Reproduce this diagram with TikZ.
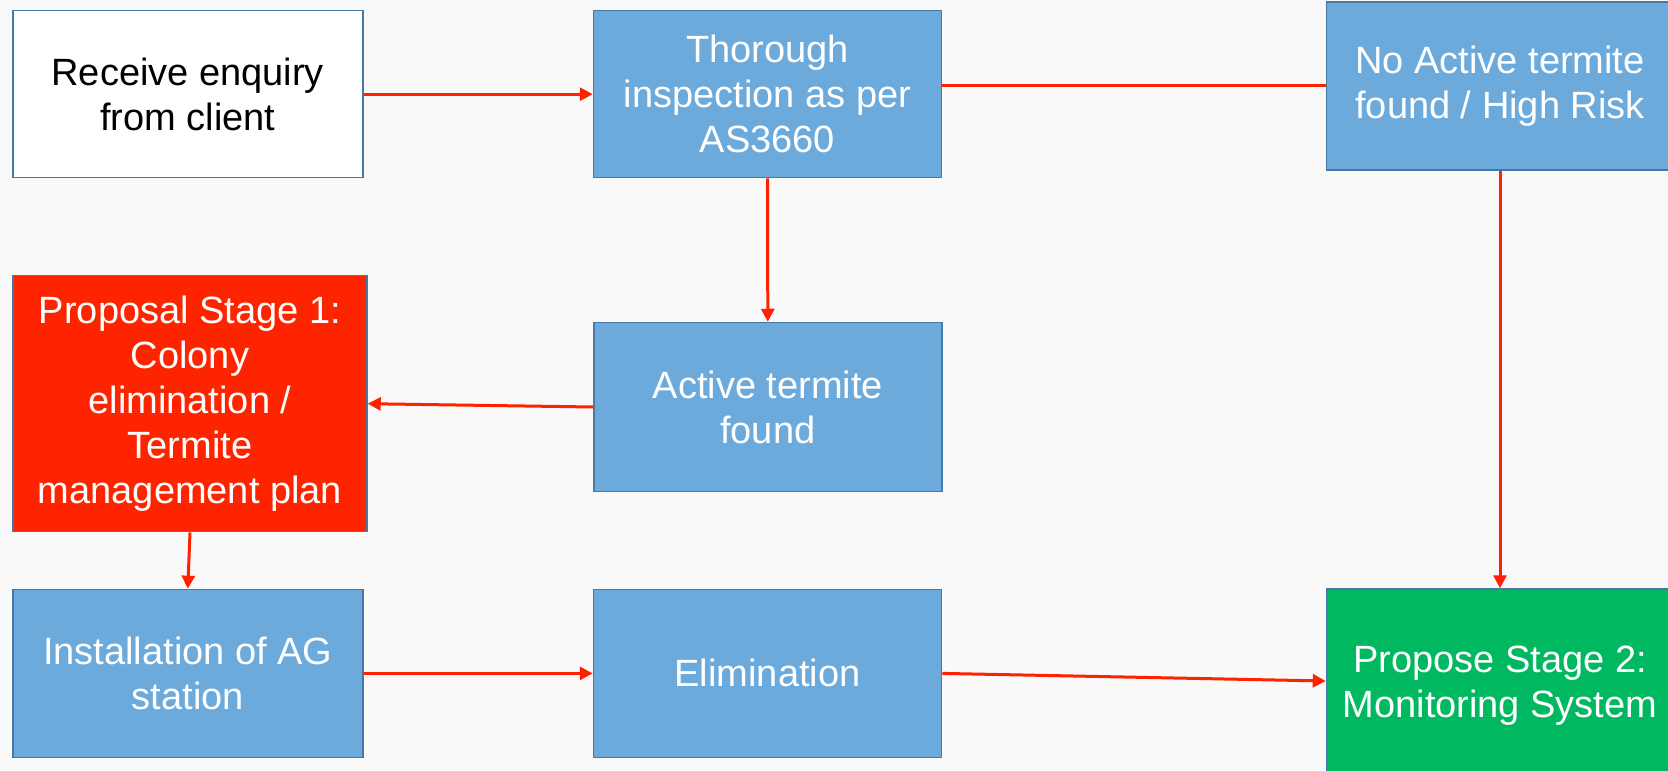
\documentclass[tikz,border=0pt]{standalone}
\usepackage{fontspec}
\setmainfont{Liberation Sans}
\usetikzlibrary{arrows.meta}

\definecolor{boxblue}{RGB}{108,170,220}
\definecolor{boxedge}{RGB}{70,120,165}
\definecolor{boxred}{RGB}{255,36,0}
\definecolor{boxgreen}{RGB}{0,184,96}
\definecolor{flowred}{RGB}{255,34,0}
\definecolor{pagebg}{RGB}{249,249,249}

\tikzset{
  flowbox/.style={draw=boxedge, line width=0.75pt, rectangle, align=center,
    inner sep=0pt, text=white, fill=boxblue,
    font=\fontsize{19}{22.5}\selectfont},
  plainbox/.style={flowbox, fill=white, text=black},
  redbox/.style={flowbox, fill=boxred},
  greenbox/.style={flowbox, fill=boxgreen},
  flow/.style={draw=flowred, line width=1.5pt,
    -{Triangle[length=6.5pt,width=6.5pt]}},
  link/.style={draw=flowred, line width=1.5pt}
}

\begin{document}
\begin{tikzpicture}[x=0.5pt,y=-0.5pt]
  % page area
  \fill[pagebg] (0,0) rectangle (1668,770);
  \useasboundingbox (0,0) rectangle (1668,770);
  \clip (0,0) rectangle (1668,770);

  % process boxes
  \node[plainbox, minimum width=175pt, minimum height=83.5pt] (recv) at (187.8,94.2)
    {Receive enquiry\\from client};
  \node[flowbox, minimum width=174pt, minimum height=83.5pt] (insp) at (767.5,94.2)
    {Thorough\\inspection as per\\AS3660};
  \node[flowbox, minimum width=173.5pt, minimum height=84pt] (noact) at (1500,86)
    {No Active termite\\found / High Risk};
  \node[redbox, minimum width=177pt, minimum height=128pt] (prop1) at (190,403.7)
    {Proposal Stage 1:\\Colony\\elimination /\\Termite\\management plan};
  \node[flowbox, minimum width=174pt, minimum height=84.5pt] (act) at (767.8,407)
    {Active termite\\found};
  \node[flowbox, minimum width=175pt, minimum height=84pt] (inst) at (187.8,673.4)
    {Installation of AG\\station};
  \node[flowbox, minimum width=174pt, minimum height=84pt] (elim) at (767.5,673.4)
    {Elimination};
  \node[greenbox, minimum width=173.5pt, minimum height=97pt] (prop2) at (1500,686)
    {Propose Stage 2:\\Monitoring System};

  % connectors
  \draw[flow] (recv.east) -- (insp.west);
  \draw[link] (noact.west -| insp.east) -- (noact.west);
  \draw[flow] (insp.south) -- (act.north);
  \draw[flow] (act.west) -- (prop1.east);
  \draw[flow] (prop1.south) -- (inst.north);
  \draw[flow] (inst.east) -- (elim.west);
  \draw[flow] (elim.east) -- ([yshift=2.5pt]prop2.west);
  \draw[flow] (noact.south) -- (prop2.north);
\end{tikzpicture}
\end{document}
